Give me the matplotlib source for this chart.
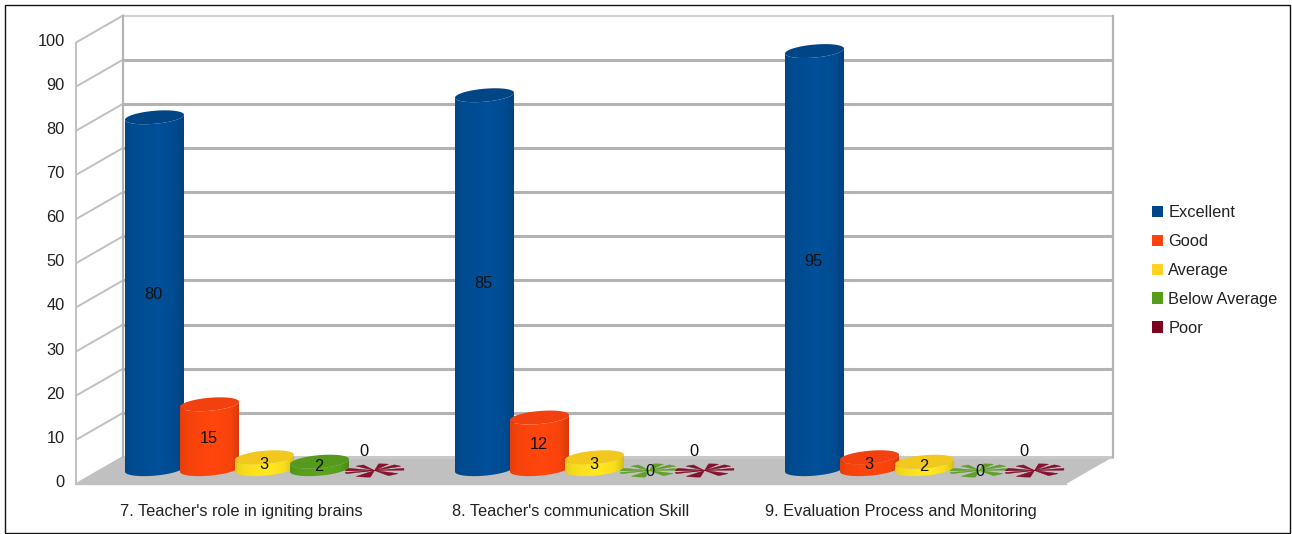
import numpy as np
import matplotlib
matplotlib.use('Agg')
import matplotlib.pyplot as plt
import matplotlib.transforms as mtrans
from matplotlib.patches import Patch, Polygon, Rectangle

plt.rcParams['font.family'] = ['Liberation Sans', 'DejaVu Sans']

# Data
categories = ["7. Teacher's role in igniting brains",
              "8. Teacher's communication Skill",
              "9. Evaluation Process and Monitoring"]
series_names = ['Excellent', 'Good', 'Average', 'Below Average', 'Poor']
excellent = [80, 85, 95]
good = [15, 12, 3]
average = [3, 3, 2]
below_average = [2, 0, 0]
poor = [0, 0, 0]
series_values = [excellent, good, average, below_average, poor]
y_ticks = list(range(0, 101, 10))

# Colours of the office palette
colors = ['#004586', '#ff420e', '#ffd320', '#579d1c', '#7e0021']
body_colors = ['#004e96', '#ff450c', '#ffe41e', '#5aa31c', '#7e0021']
top_colors = ['#004586', '#f2400e', '#f2c81e', '#559a1c', '#7e0021']

# Scales, in pixels
W, H = 1292, 534
PX_X = 330.0     # one category
PX_Y = 4.415     # one value unit
LEFT, RIGHT, TOP, BOTTOM = 76, 1112, 15, 484
DX = 47 / PX_X   # depth of the box
DY = 27 / PX_Y
BAR_STEP = (55 / PX_X)
A = 29.5 / PX_X  # ellipse half width
B = 6.5 / PX_Y   # ellipse half height
K = 2.5 / PX_Y   # ellipse tilt
FONT = 11.8

fig = plt.figure(figsize=(W / 100, H / 100), dpi=100, facecolor='white')
ax = fig.add_axes([LEFT / W, 1 - BOTTOM / H, (RIGHT - LEFT) / W, (BOTTOM - TOP) / H])
ax.patch.set_visible(False)
for s in ax.spines.values():
    s.set_visible(False)

# Outer frame
fig.add_artist(Rectangle((4.5 / W, 1 - 532.5 / H), 1285 / W, 528 / H, transform=fig.transFigure,
                         facecolor='white', edgecolor='#111111', linewidth=1.0, zorder=-5))

# Walls and floor
ax.add_patch(Polygon([(0, 0), (DX, DY), (3 + DX, DY), (3, 0)], closed=True,
                     facecolor='#c0c0c0', edgecolor='none', zorder=1, clip_on=False))
for v in y_ticks:
    col = '#b3b3b3' if v < 100 else '#d2d2d2'
    ax.plot([DX, 3 + DX], [v + DY, v + DY], color=col if v else '#c8c8c8',
            lw=2.2 if v < 100 else 1.6, zorder=1.5, clip_on=False, solid_capstyle='butt')
    ax.plot([0, DX], [v, v + DY], color='#c0c0c0', lw=1.4, zorder=1.5, clip_on=False)
ax.plot([0, 0], [0, 100], color='#c0c0c0', lw=1.4, zorder=1.5, clip_on=False)
ax.plot([DX, DX], [DY, 100 + DY], color='#b3b3b3', lw=1.6, zorder=1.5, clip_on=False)
ax.plot([3 + DX, 3 + DX], [DY, 100 + DY], color='#b3b3b3', lw=1.6, zorder=1.5, clip_on=False)
ax.plot([0, 3], [0, 0], color='#c0c0c0', lw=1.0, zorder=1.5, clip_on=False)

t = np.linspace(0, 2 * np.pi, 121)
shade = np.interp(np.linspace(0, 1, 64), [0, 0.12, 0.55, 0.85, 1], [0.9, 0.96, 1.02, 0.97, 0.84])


def ring(cx, cy):
    return cx + A * np.cos(t), cy + B * np.sin(t) + K * np.cos(t)


def cylinder(cx, value, i, z):
    base = DY / 2 + 0.3
    top = base + value - 0.3
    xt, yt = ring(cx, top)
    lower = t[:61] + np.pi
    xs = np.r_[cx + A * np.cos(lower), cx + A * np.cos(lower[::-1])]
    ys = np.r_[base + B * np.sin(lower) + K * np.cos(lower),
               top + B * np.sin(lower[::-1]) + K * np.cos(lower[::-1])]
    body = Polygon(np.c_[xs, ys], closed=True, facecolor='none', edgecolor='none', zorder=z, clip_on=False)
    ax.add_patch(body)
    rgb = np.clip(np.array(matplotlib.colors.to_rgb(body_colors[i]))[None, None, :] * shade[None, :, None], 0, 1)
    im = ax.imshow(rgb, extent=(cx - A, cx + A, base - B - K, top + B + K), aspect='auto',
                   interpolation='bilinear', zorder=z)
    im.set_clip_path(body)
    ax.fill(xt, yt, color=top_colors[i], lw=0, zorder=z + 0.01, clip_on=False)


# Flat star left by a bar of height zero
petals = [(-8, 8), (28, 48), (62, 82), (112, 128), (150, 172), (186, 198), (232, 262), (298, 322)]


def flat_bar(cx, i, z):
    base = DY / 2
    for a0, a1 in petals:
        ang = np.radians(np.linspace(a0, a1, 12))
        xs = np.r_[cx, cx + A * np.cos(ang)]
        ys = np.r_[base, base + B * np.sin(ang) + K * np.cos(ang) * 0.5]
        ax.fill(xs, ys, color=colors[i], alpha=0.9, lw=0.3, zorder=z, clip_on=False)


z = 3
for c in range(len(categories)):
    center = c + 0.5 + DX / 2
    for i, vals in enumerate(series_values):
        cx = center + (i - 2) * BAR_STEP
        v = vals[c]
        if v > 0:
            cylinder(cx, v, i, z)
            ax.text(cx - 1 / PX_X, DY / 2 + v / 2 - 0.2, str(v), ha='center', va='center', fontsize=FONT,
                    color='#111111', zorder=20)
        else:
            flat_bar(cx, i, z)
            if i == 4:
                ax.text(cx - 11 / PX_X, DY / 2 + 4.2, '0', ha='center', va='center', fontsize=FONT,
                        color='#111111', zorder=20)
            else:
                ax.text(cx, DY / 2 - 0.2, '0', ha='center', va='center', fontsize=FONT,
                        color='#111111', zorder=20)
        z += 0.1

# Axes
ax.set_xlim(0, (RIGHT - LEFT) / PX_X)
ax.set_ylim(0, (BOTTOM - TOP) / PX_Y)
ax.set_xticks([c + 0.5 for c in range(len(categories))])
ax.set_xticklabels(categories, fontsize=FONT, color='#222222')
ax.set_yticks(y_ticks)
ax.set_yticklabels([str(v) for v in y_ticks], fontsize=FONT, color='#222222')
ax.tick_params(axis='x', length=0, pad=14.5)
ax.tick_params(axis='y', length=0, pad=8)
shift = mtrans.ScaledTranslation(0, 3 / 100, fig.dpi_scale_trans)
for lab in ax.get_yticklabels():
    lab.set_transform(lab.get_transform() + shift)

# Legend
handles = [Patch(facecolor=c, edgecolor='none') for c in colors]
fig.legend(handles, series_names, loc='center left', bbox_to_anchor=(1152 / W, 1 - 270.5 / H),
           frameon=False, fontsize=FONT, handlelength=0.68, handleheight=0.7, handletextpad=0.32,
           labelspacing=0.84, labelcolor='#222222', borderpad=0, borderaxespad=0)

fig.savefig('out.png', dpi=100)
